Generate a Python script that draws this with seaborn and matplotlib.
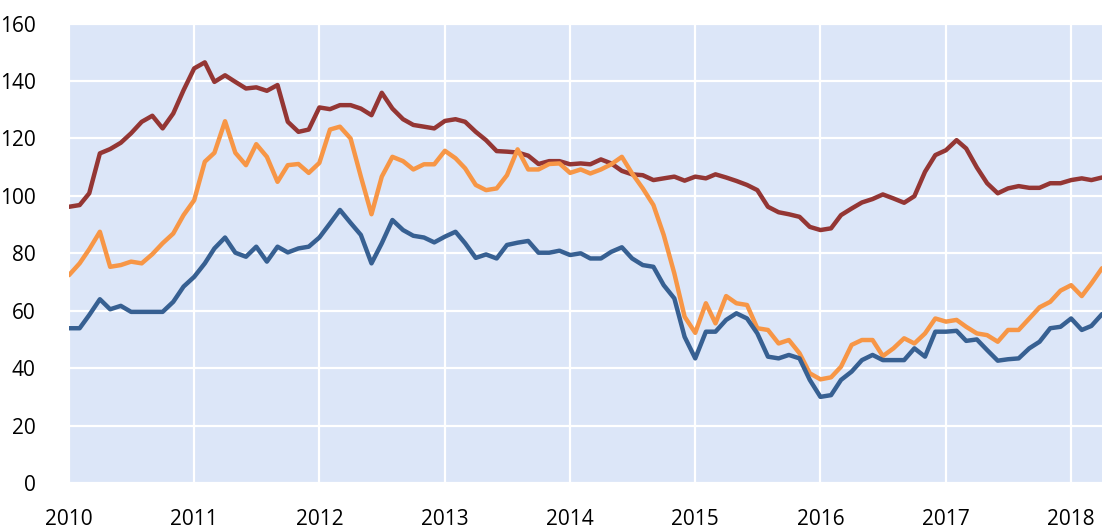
import numpy as np
import pandas as pd
import matplotlib
matplotlib.use("Agg")
import matplotlib.pyplot as plt
import matplotlib.dates as mdates
import seaborn as sns

# monthly values, Jan 2010 - Apr 2018
months = pd.date_range("2010-01-01", periods=100, freq="MS")

red = [96.2, 96.8, 100.9, 114.8, 116.3, 118.5, 121.8, 125.8, 127.9, 123.5,
       128.7, 136.8, 144.4, 146.5, 139.7, 142.0, 139.7, 137.4, 137.8, 136.6,
       138.6, 125.8, 122.3, 123.1, 130.8, 130.2, 131.6, 131.6, 130.4, 128.1,
       135.9, 130.4, 126.7, 124.7, 124.1, 123.5, 126.1, 126.7, 125.8, 122.3,
       119.4, 115.6, 115.4, 115.1, 114.0, 111.1, 112.1, 112.1, 111.0, 111.3,
       111.0, 112.7, 111.3, 108.7, 107.5, 107.2, 105.5, 106.1, 106.7, 105.3,
       106.7, 106.1, 107.5, 106.4, 105.2, 103.8, 102.0, 96.2, 94.3, 93.6,
       92.7, 89.2, 88.1, 88.7, 93.3, 95.6, 97.7, 98.9, 100.5, 99.1,
       97.6, 99.9, 108.4, 114.2, 115.9, 119.4, 116.5, 109.9, 104.4, 100.9,
       102.6, 103.4, 102.8, 102.8, 104.4, 104.4, 105.5, 106.1, 105.5, 106.4]

orange = [72.4, 76.5, 81.4, 87.5, 75.3, 75.9, 77.1, 76.5, 79.7, 83.5,
          86.9, 93.3, 98.5, 111.9, 115.0, 126.0, 115.0, 110.7, 118.0, 113.6,
          104.9, 110.7, 111.1, 108.0, 111.5, 123.1, 124.1, 120.0, 106.7, 93.6,
          106.7, 113.6, 112.1, 109.2, 111.0, 111.0, 115.7, 113.1, 109.6, 103.8,
          102.0, 102.6, 107.2, 116.2, 109.2, 109.2, 111.1, 111.3, 108.0, 109.2,
          107.8, 109.2, 111.0, 113.6, 107.8, 102.6, 96.8, 86.4, 73.0, 57.9,
          52.3, 62.6, 55.6, 65.1, 62.6, 62.0, 53.9, 53.3, 48.6, 49.8,
          45.2, 38.2, 36.1, 36.8, 40.5, 48.1, 49.8, 49.8, 44.2, 46.9,
          50.4, 48.6, 52.1, 57.3, 56.2, 56.8, 54.4, 52.1, 51.5, 49.2,
          53.3, 53.3, 57.3, 61.2, 63.1, 67.0, 68.9, 65.1, 69.5, 74.8]

blue = [53.9, 53.9, 58.5, 64.0, 60.5, 61.7, 59.6, 59.6, 59.6, 59.6,
        63.1, 68.4, 71.8, 76.5, 81.7, 85.5, 80.2, 78.8, 82.3, 77.1,
        82.3, 80.3, 81.7, 82.3, 85.5, 90.4, 95.1, 90.6, 86.4, 76.5,
        83.5, 91.6, 88.1, 86.1, 85.5, 83.8, 85.8, 87.5, 83.5, 78.4,
        79.6, 78.2, 82.9, 83.7, 84.3, 80.2, 80.2, 80.9, 79.4, 80.0,
        78.2, 78.2, 80.5, 82.1, 78.2, 75.9, 75.3, 68.9, 64.3, 50.9,
        43.4, 52.7, 52.7, 56.8, 59.1, 57.3, 52.1, 44.0, 43.4, 44.6,
        43.4, 35.9, 30.0, 30.6, 35.9, 38.8, 42.8, 44.6, 42.8, 42.8,
        42.8, 46.9, 44.0, 52.7, 52.7, 53.0, 49.5, 50.0, 46.3, 42.6,
        43.1, 43.4, 46.9, 49.2, 53.9, 54.4, 57.3, 53.3, 54.7, 58.8]

series_names = ["red", "orange", "blue"]
palette = {"red": "#943634", "orange": "#F79646", "blue": "#376092"}

df = pd.DataFrame({"date": months, "red": red, "orange": orange, "blue": blue})
long_df = df.melt(id_vars="date", var_name="series", value_name="value")

sns.set_theme(style="darkgrid", rc={
    "axes.facecolor": "#DCE6F8",
    "grid.color": "white",
    "grid.linewidth": 1.6,
})
plt.rcParams["font.family"] = ["Open Sans", "DejaVu Sans"]

fig = plt.figure(figsize=(11.02, 5.29), dpi=100)
ax = fig.add_axes([69 / 1102, 46 / 529, 1 - 69 / 1102, (483 - 23.6) / 529])

sns.lineplot(data=long_df, x="date", y="value", hue="series",
             hue_order=series_names, palette=palette, linewidth=3.2,
             legend=False, ax=ax)

ax.set_xlim(pd.Timestamp("2010-01-01"), pd.Timestamp("2018-04-01"))
ax.set_ylim(0, 160)
ax.set_yticks(range(0, 161, 20))
ax.xaxis.set_major_locator(mdates.YearLocator())
ax.xaxis.set_major_formatter(mdates.DateFormatter("%Y"))
ax.set_xlabel("")
ax.set_ylabel("")
ax.tick_params(axis="y", labelsize=15, pad=18, colors="black")
ax.tick_params(axis="x", labelsize=15, pad=12.5, colors="black")
for s in ax.spines.values():
    s.set_visible(False)

fig.savefig("out.png", dpi=100, facecolor="white")
